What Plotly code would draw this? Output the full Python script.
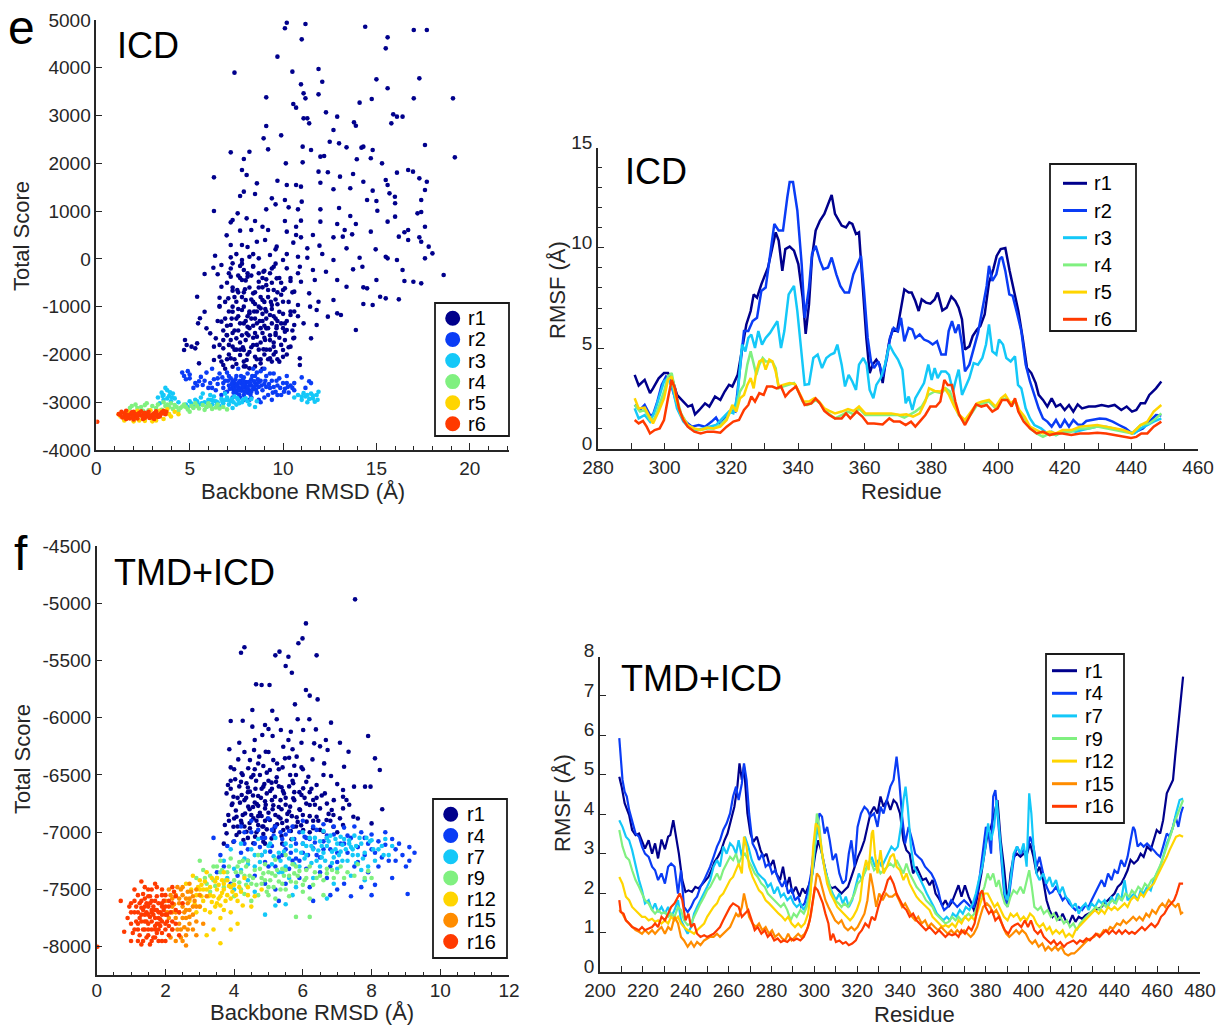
import plotly.graph_objects as go

W, H = 1220, 1027
FONT = "Liberation Sans, Arial, sans-serif"
TXT = "#262626"

# ---------------- data: panel e, scatter (Backbone RMSD, Total Score) ----------------
ICD_SC_R1 = [(10.2,4944),(10.1,4826),(11.2,4916),(11.0,4595),(14.4,4860),(15.6,4637),(15.5,4407),(17.0,4791),(17.7,4791),(9.7,4233),(7.4,3898),(10.5,3919),(11.9,3975),(12.1,3709),(10.96,3653),(11.1,3465),(11.2,3360),(11.9,3444),(15.0,3758),(15.6,3570),(17.3,3779),(17.0,3360),(19.1,3360),(14.75,3346),(14.1,3270),(9.1,3381),(10.55,3242),(10.7,3165),(12.3,3067),(11.1,2942),(11.3,2942),(11.4,2837),(12.9,2977),(13.8,2858),(13.9,2788),(15.9,3025),(16.1,2977),(16.4,2977),(15.8,2837),(12.7,2698),(9.1,2781),(8.96,2523),(9.9,2586),(12.5,2453),(13.0,2418),(13.4,2335),(14.2,2328),(14.3,2349),(14.8,2279),(17.6,2384),(7.2,2230),(8.2,2244),(9.2,2293),(11.05,2349),(11.5,2279),(19.2,2125),(7.9,2091),(12.0,2140),(12.2,2154),(13.95,2084),(14.7,2105),(10.15,2000),(11.05,2021),(15.3,2000),(7.8,1860),(8.05,1756),(6.3,1707),(11.9,1826),(12.4,1812),(13.05,1721),(13.75,1777),(16.1,1805),(16.7,1860),(16.96,1826),(17.3,1686),(17.7,1616),(15.5,1651),(15.6,1546),(8.6,1581),(9.7,1637),(10.2,1546),(10.7,1546),(10.96,1512),(12.0,1595),(12.7,1456),(13.6,1477),(14.3,1616),(14.8,1428),(15.7,1372),(15.99,1302),(17.6,1442),(7.9,1407),(7.7,1316),(8.5,1358),(9.4,1267),(10.1,1233),(11.0,1198),(14.5,1233),(15.0,1212),(16.0,1163),(17.4,1233),(6.3,1002),(7.57,953),(9.1,1037),(9.6,1142),(10.3,1079),(10.8,1037),(12.0,1037),(13.0,1065),(13.6,898),(15.05,1009),(16.0,884),(17.2,953),(17.4,981),(7.2,765),(7.3,814),(8.05,849),(8.5,793),(8.9,674),(10.1,793),(10.7,674),(10.96,800),(12.0,779),(12.9,730),(13.3,605),(13.9,730),(15.6,779),(16.7,605),(17.6,674),(6.98,493),(7.7,591),(8.3,605),(9.2,605),(10.2,570),(10.7,500),(10.96,451),(11.6,500),(12.7,451),(13.2,465),(13.7,514),(14.7,570),(16.2,465),(16.5,556),(17.3,451),(7.2,291),(7.8,291),(8.6,360),(9.04,395),(9.66,256),(10.55,340),(11.3,221),(11.95,277),(13.4,221),(14.96,200),(16.7,395),(17.4,360),(17.8,256),(18.0,116),(6.36,67),(7.2,32),(7.8,-23),(8.2,46),(8.7,11),(9.3,81),(10.0,-23),(10.8,46),(11.3,25),(12.1,102),(12.7,-23),(14.1,25),(15.5,46),(15.6,11),(16.1,-23),(17.6,11),(6.27,-184),(6.7,-128),(7.3,-93),(7.9,-233),(8.4,-163),(8.95,-268),(9.5,-163),(10.2,-198),(10.9,-163),(11.6,-233),(12.3,-268),(13.75,-219),(14.25,-163),(16.4,-233),(18.6,-337),(5.8,-316),(6.5,-323),(7.2,-372),(7.8,-442),(8.1,-372),(8.7,-477),(9.1,-428),(9.66,-407),(10.4,-463),(10.96,-477),(11.7,-442),(12.9,-442),(15.0,-442),(16.5,-463),(16.98,-477),(17.4,-512),(13.4,-582),(14.3,-596),(14.5,-617),(6.7,-582),(7.3,-665),(7.96,-637),(8.4,-721),(8.9,-596),(9.5,-651),(10.1,-617),(10.6,-686),(11.4,-721),(5.4,-791),(6.6,-812),(7.07,-826),(7.5,-896),(8.0,-861),(8.5,-944),(8.9,-861),(9.4,-965),(10.0,-896),(10.8,-965),(11.9,-896),(12.7,-861),(15.2,-791),(15.5,-826),(16.2,-847),(14.3,-944),(14.8,-965),(6.6,-986),(7.3,-1105),(7.8,-1070),(8.2,-1140),(8.8,-1035),(9.3,-1175),(9.8,-1105),(10.4,-1175),(11.45,-1000),(11.8,-1070),(5.8,-1105),(12.4,-1209),(12.9,-1140),(13.1,-1175),(5.55,-1244),(5.45,-1349),(6.7,-1314),(7.2,-1384),(7.7,-1349),(8.1,-1419),(8.6,-1349),(9.1,-1454),(9.66,-1405),(10.2,-1489),(10.6,-1384),(11.1,-1349),(11.8,-1384),(5.9,-1454),(6.1,-1558),(13.9,-1489),(6.4,-1663),(6.98,-1593),(7.5,-1663),(8.05,-1558),(8.6,-1628),(9.04,-1698),(9.6,-1593),(10.1,-1524),(10.55,-1663),(11.5,-1663),(4.75,-1698),(4.84,-1803),(4.7,-1907),(5.1,-1837),(5.4,-1768),(6.3,-1837),(6.8,-1872),(7.3,-1837),(7.9,-1907),(8.4,-1803),(8.95,-1893),(9.5,-1837),(10.0,-1907),(10.4,-1837),(5.3,-1872),(6.6,-2047),(7.2,-2082),(7.7,-2012),(8.05,-2117),(8.5,-2047),(8.8,-2186),(9.3,-2082),(9.8,-2151),(10.9,-2082),(5.5,-2186),(6.3,-2117),(6.8,-2221),(7.3,-2256),(8.2,-2291),(10.9,-2221),
    (7.6,-1200),(8.3,-1250),(8.9,-1300),(9.6,-1250),(7.4,-1500),(8.0,-1700),(8.8,-1750),(9.3,-1600),(7.1,-1800),(9.9,-1350),(8.6,-1100),(7.9,-1000),(9.2,-800),(8.2,-600),(9.7,-700),(8.7,-300),(9.4,-500),(7.6,-700),(10.3,-900),(8.1,-2000),(9.0,-2000),(7.5,-2200),(8.5,-2250),(7.9,-2150),(9.6,-1950),(10.5,-1500),(10.8,-1200),(6.9,-1250),(7.0,-1600),(9.0,-250),(8.4,100),(9.6,200),(7.7,-400),(10.4,-400),(9.1,-1100),(8.3,-850),(7.4,-1900),(8.9,-2300),(9.4,-2150),(6.9,-2300),
    (7.0,-500),(7.3,-1000),(7.6,-1500),(7.9,-1350),(8.2,-1100),(8.5,-1550),(8.8,-1450),(9.1,-1250),(9.4,-1050),(9.7,-950),(10.0,-1150),(7.2,-1700),(7.5,-1250),(7.8,-800),(8.1,-300),(8.4,-900),(8.7,-1900),(9.0,-1650),(9.3,-1900),(9.6,-1550),(9.9,-750),(10.2,-1300),(7.1,-2000),(7.4,-2100),(7.7,-1750),(8.0,-1300),(8.3,-1850),(8.6,-2100),(8.9,-1150),(9.2,-1450),(9.5,-1750),(9.8,-1650),(10.1,-1700),(6.8,-1500),(6.9,-900),(7.2,-200),(7.5,100),(7.8,-100),(8.1,250),(8.4,-150),(8.7,-600),(9.0,-900),(9.3,-300),(9.6,-100),(9.9,-500),(10.2,100),(10.5,-700),(10.8,-300),(6.6,-1800),(6.7,-2150),(7.0,-1400),(7.3,-600),(7.6,-350),(7.9,-700),(8.2,-1450),(8.5,-1250),(8.8,-800),(9.1,-550),(9.4,-1350),(9.7,-1300),(10.0,-1450),(10.3,-1850),(10.6,-1100),(6.5,-1300),(7.1,-1100),(8.0,-2250),(8.9,-1550),(9.5,-2000),(7.7,-1900),(8.4,-1650),(9.2,-2100),(10.0,-2050),
    (6.6,-1000),(6.8,-1700),(7.0,-2100),(7.1,-300),(7.3,-1550),(7.4,-800),(7.5,-1900),(7.6,-1050),(7.7,-150),(7.8,-1600),(7.9,-2250),(8.0,-450),(8.1,-1200),(8.2,-1950),(8.3,-350),(8.4,-1400),(8.5,-700),(8.6,-1800),(8.7,-1000),(8.8,-2100),(8.9,-400),(9.0,-1400),(9.1,-1900),(9.2,-650),(9.3,-1700),(9.4,-200),(9.5,-1200),(9.6,-850),(9.7,-2100),(9.8,-400),(9.9,-1800),(10.0,-650),(10.1,-1350),(10.2,-2000),(10.4,-1100),(10.6,-1650),(7.25,-1250),(7.85,-1850),(8.45,-1100),(9.05,-1050),(9.65,-1450),(8.15,-1600),(8.75,-1300),(7.55,-650),(9.35,-900)]
ICD_SC_R2 = [(4.6,-2380),(4.7,-2450),(4.9,-2350),(4.8,-2520),(5.0,-2420),(5.3,-2600),(5.5,-2560),(5.7,-2640),(5.6,-2470),(5.9,-2380),(6.1,-2600),(6.0,-2700),(6.3,-2520),(6.4,-2750),(6.6,-2400),(6.5,-2620),(6.7,-2850),(6.8,-2700),(6.9,-2550),(7.0,-2380),(7.0,-2780),(7.1,-2650),(7.2,-2500),(7.3,-2720),(7.3,-2900),(7.4,-2600),(7.5,-2450),(7.5,-2800),(7.6,-2680),(7.7,-2550),(7.7,-2900),(7.8,-2620),(7.8,-2760),(7.9,-2480),(7.9,-2850),(8.0,-2700),(8.0,-2580),(8.1,-2400),(8.1,-2800),(8.2,-2650),(8.3,-2520),(8.3,-2900),(8.4,-2720),(8.5,-2600),(8.5,-2450),(8.6,-2800),(8.7,-2680),(8.8,-2350),(8.8,-2550),(8.9,-2750),(9.0,-2620),(9.1,-2450),(9.2,-2850),(9.3,-2700),(9.4,-2550),(9.5,-2400),(9.6,-2780),(9.7,-2650),(9.8,-2500),(9.9,-2850),(10.0,-2600),(10.1,-2720),(10.2,-2450),(10.3,-2800),(10.4,-2650),(10.5,-2700),(10.6,-2750),(11.0,-2480),(11.4,-2560),(7.6,-2300),(8.4,-2300),(9.0,-2300),(8.2,-2950),(6.2,-2300),(5.2,-2700),(7.2,-2970),(8.8,-3000),(9.4,-2950),(7.4,-2700),(7.6,-2600),(7.8,-2700),(8.0,-2650),(8.2,-2750),(7.5,-2650),(7.9,-2600),(8.1,-2700),(7.7,-2750),(8.3,-2650),(7.3,-2560),(8.6,-2650),(7.35,-2800),(7.65,-2840),(7.95,-2780),(8.25,-2840),(8.45,-2560),(7.15,-2720),(7.85,-2530),(8.15,-2580),(8.55,-2740),(7.45,-2520),
    (5.0,-2500),(5.4,-2650),(5.8,-2550),(6.2,-2700),(6.5,-2500),(6.8,-2600),(6.9,-2800),(9.7,-2850),(10.2,-2600),(10.6,-2600),(11.2,-2700),(11.5,-2600),(9.0,-2900),(8.7,-2950),(7.9,-2950),(7.1,-2450),(8.6,-2380),(9.3,-2400),(7.3,-2650),(7.6,-2750),(8.3,-2780),(8.7,-2580),(9.1,-2680),(9.5,-2680),
    (7.05,-2550),(7.25,-2620),(7.45,-2750),(7.65,-2580),(7.85,-2660),(8.05,-2750),(8.25,-2600),(8.45,-2680),(8.65,-2520),(8.85,-2650),(9.05,-2550),(9.25,-2620),(9.45,-2800),(9.65,-2550),(9.85,-2700),(10.05,-2780),(10.25,-2680),(7.75,-2450),(8.35,-2450),(6.75,-2480)]
ICD_SC_R3 = [(3.3,-2900),(3.5,-2800),(3.6,-2950),(3.8,-2750),(3.9,-2870),(4.0,-2980),(4.1,-2820),(4.2,-2920),(3.7,-2700),(3.4,-3020),(4.8,-3050),(5.0,-2980),(5.2,-3100),(5.3,-2950),(5.5,-3050),(5.6,-2900),(5.8,-3000),(5.9,-3100),(6.0,-2950),(6.2,-3050),(6.3,-2880),(6.4,-2980),(6.6,-3080),(6.7,-2930),(6.8,-3020),(7.0,-2900),(7.1,-3050),(7.2,-2980),(7.4,-2880),(7.5,-3050),(7.6,-2950),(7.8,-3000),(8.0,-2920),(8.2,-3050),(8.5,-3100),(8.6,-2980),(6.9,-2820),(6.1,-2850),(7.3,-3120),(5.7,-2820),(10.6,-2900),(10.8,-2850),(11.0,-2950),(11.2,-2880),(11.3,-3000),(11.5,-2820),(11.6,-2920),(11.8,-2850),(11.9,-2780),(11.7,-2990),(11.4,-2930),(11.1,-2810),(11.85,-2950),(6.5,-3000),(6.85,-2960),(7.25,-2930),(5.95,-3020),(6.25,-2970),(7.65,-3020),(4.4,-3000),(3.55,-2870),(3.95,-2790),
    (5.4,-2980),(5.65,-3020),(6.15,-2950),(6.45,-3050),(6.75,-2990),(7.05,-2960),(7.35,-3000),(7.55,-2920),(7.85,-2950),(8.1,-2980),(8.3,-2930),(5.1,-3030),(4.9,-3100),(3.6,-2850),(3.8,-2920),(4.05,-2900),(11.3,-2850),(11.6,-2860),(11.0,-2880)]
ICD_SC_R4 = [(1.8,-3120),(2.1,-3050),(2.4,-3100),(2.7,-3020),(3.0,-3080),(3.3,-3050),(3.6,-3000),(3.9,-3100),(4.2,-3060),(4.5,-3120),(4.7,-3050),(4.9,-3150),(5.1,-3080),(5.3,-3020),(5.5,-3130),(5.7,-3060),(5.9,-3100),(6.2,-3140),(6.5,-3050),(6.8,-3100),(7.0,-3150),(4.4,-3180),(3.5,-3160),(2.8,-3170),(5.0,-3200),(6.0,-3020),(4.0,-3020),(2.5,-3180),(4.6,-3090),(5.2,-3120),(5.8,-3160),(6.6,-3130),(4.1,-3140),(3.7,-3080),
    (1.9,-3080),(2.2,-3120),(2.6,-3060),(3.2,-3120),(3.8,-3050),(4.3,-3100),(4.8,-3100),(5.4,-3080),(6.1,-3080),(6.4,-3110)]
ICD_SC_R5 = [(1.3,-3300),(1.5,-3380),(2.0,-3400),(2.6,-3390),(3.2,-3380),(3.6,-3350),(3.9,-3250),(4.2,-3200),(4.0,-3300),(3.8,-3150),(1.7,-3200),(2.2,-3180),(2.9,-3170),(3.4,-3180),(4.4,-3250),(1.2,-3250),(3.0,-3400),(2.3,-3380)]
ICD_SC_R6 = [(1.3,-3270),(1.5,-3230),(1.7,-3290),(1.9,-3250),(2.1,-3300),(2.3,-3220),(2.5,-3270),(2.7,-3240),(2.9,-3290),(3.1,-3230),(3.3,-3260),(3.5,-3210),(3.7,-3250),(1.4,-3320),(1.6,-3180),(1.8,-3340),(2.0,-3200),(2.2,-3340),(2.4,-3190),(2.6,-3330),(2.8,-3200),(3.0,-3320),(3.2,-3190),(3.4,-3300),(3.6,-3180),(1.2,-3250),(1.5,-3300),(1.8,-3260),(2.1,-3250),(2.4,-3280),(2.7,-3300),(3.0,-3260),(3.3,-3310),(3.6,-3230),(1.6,-3350),(1.9,-3210),(2.2,-3290),(2.5,-3350),(2.8,-3260),(3.1,-3350),(3.4,-3280),(2.0,-3360),(2.6,-3220),(3.2,-3230),(3.75,-3200),(1.35,-3200),(1.65,-3270),(1.95,-3300),(2.25,-3260),(2.55,-3300),(2.85,-3330),(3.15,-3280),(3.45,-3250),(0.05,-3410)]

# ---------------- data: panel e, RMSF per residue (ICD) ----------------
ICD_RMSF_R1 = [(291,3.67),(292.2,3.14),(294,3.42),(295.6,2.76),(296.5,3.0),(298.2,3.5),(299.8,3.76),(301,3.76),(302.4,3.4),(303.7,2.67),(305.6,2.34),(307,2.09),(308.2,2.17),(309.1,1.7),(310.4,1.92),(312.1,2.25),(313.4,2.09),(315.1,2.59),(316.7,2.42),(318,2.84),(319.3,3.17),(320.3,3.09),(321.9,3.67),(323.2,4.84),(324.5,6.18),(325.8,6.85),(326.7,7.68),(327.7,7.52),(329,8.18),(331,9.02),(332.3,9.94),(333.3,10.77),(334.2,10.36),(335.3,8.85),(336.2,9.94),(337.5,10.06),(338.8,9.86),(340.1,9.19),(341.4,7.52),(342.3,5.71),(343.3,7.18),(344.2,9.52),(345.3,10.86),(346.6,11.36),(347.9,11.69),(349,12.19),(350.1,12.64),(351.1,11.69),(352,11.44),(353.1,11.11),(354.4,11.02),(355.4,11.27),(356.3,11.19),(357.4,10.69),(358.3,10.77),(359.3,8.35),(360.5,5.51),(361.5,3.76),(362.4,4.18),(363.5,4.43),(364.5,4.18),(365.4,3.26),(366.1,4.09),(367.4,5.34),(368.4,5.93),(369.7,5.85),(370.6,6.76),(371.9,7.93),(373.2,7.77),(374.1,7.77),(375.2,7.35),(376.2,6.85),(377.1,7.43),(378.4,7.27),(379.7,7.22),(381,7.43),(381.9,7.77),(383.3,6.88),(384.6,7.02),(386,7.57),(387.2,7.35),(388.2,7.02),(389.2,6.43),(390.1,4.93),(391.4,5.09),(392.4,5.6),(393.7,5.93),(394.7,6.1),(396,6.68),(397.3,8.27),(398.6,8.94),(399.6,9.6),(400.8,9.94),(402.2,9.99),(403.5,8.85),(404.8,7.93),(406.1,6.85),(407.4,5.51),(408.7,4.01),(410,3.76),(411.3,3.26),(412.2,2.67),(413.5,2.42),(414.8,2.09),(416.1,2.5),(417.4,2.09),(418.7,2.2),(420,1.92),(421.3,2.17),(422.6,1.84),(423.9,2.2),(425.2,2.0),(427.2,2.09),(429.2,2.09),(431.1,2.17),(433.1,2.09),(435,2.17),(437,1.92),(438.6,2.09),(440.2,1.84),(441.5,1.92),(442.8,2.25),(444.1,2.25),(445.4,2.67),(447.4,3.0),(449,3.34)]
ICD_RMSF_R2 = [(291,2.17),(292.6,1.92),(294,2.17),(295.6,1.67),(296.5,1.67),(297.8,2.34),(299.1,3.17),(300.4,3.59),(301.5,3.42),(302.8,2.67),(304.3,1.84),(306.3,1.34),(308.2,1.09),(310.2,1.17),(312.1,1.09),(314.1,1.34),(315.4,1.54),(316.7,1.17),(318.2,1.54),(319.9,1.92),(321.2,1.84),(322.5,3.84),(323.8,5.85),(325.1,5.85),(326.4,6.35),(327.7,6.51),(329,7.85),(330.3,8.02),(331.6,9.52),(332.9,11.19),(334.2,10.86),(335.5,10.86),(336.8,12.53),(337.5,13.28),(338.5,13.28),(339.8,11.86),(341.1,9.19),(342,6.51),(343.3,8.02),(344.2,9.69),(345.3,10.1),(346.6,9.35),(347.6,8.94),(349,9.02),(350.1,9.52),(351.5,8.68),(352.7,8.1),(354,7.77),(355.3,7.77),(356.6,8.68),(357.9,9.19),(358.9,9.6),(359.8,7.85),(360.9,5.51),(361.9,4.34),(362.8,4.01),(364.1,4.34),(365.4,3.59),(366.7,4.51),(367.6,5.51),(368.7,6.01),(370,5.85),(370.9,6.51),(371.9,5.34),(373.2,6.01),(374.3,5.93),(375.2,5.51),(376.5,5.68),(377.8,5.43),(379.1,5.34),(380.4,5.18),(381.7,5.34),(383,4.68),(384.3,4.68),(385.2,5.85),(386.2,6.35),(387.2,5.76),(388.2,6.18),(389.2,5.18),(390.1,3.84),(391.4,4.18),(392.7,4.93),(394,5.76),(395.3,6.93),(396.6,8.1),(397.3,9.1),(398.3,8.35),(399.5,8.68),(400.5,9.44),(401.2,9.55),(402.2,8.85),(403.4,7.68),(404.4,7.6),(405.7,6.76),(407,5.85),(408.3,4.18),(409.6,3.34),(410.9,2.67),(412.2,2.0),(413.5,1.5),(414.8,1.34),(416.1,1.09),(417.4,1.42),(418.7,1.04),(420,1.42),(421.3,1.09),(422.6,1.42),(423.9,1.2),(425.2,1.17),(426.5,1.37),(428.5,1.42),(430.5,1.5),(432.4,1.47),(434.4,1.34),(436.3,1.17),(438.3,1.0),(440.2,0.75),(441.5,0.84),(443.5,1.0),(445.4,1.34),(447.4,1.67),(449,1.64)]
ICD_RMSF_R3 = [(291,2.0),(292.2,1.5),(294,1.67),(295.6,1.34),(297,1.84),(298.5,2.67),(299.8,3.34),(301,3.51),(302.4,3.0),(303.7,2.0),(305.6,1.34),(307.6,1.0),(309.5,0.92),(311.5,1.0),(313.4,1.09),(315.4,1.17),(317.3,1.5),(319.3,1.84),(320.6,1.75),(321.9,2.67),(323.2,5.18),(324.2,4.84),(325.1,5.51),(326,5.68),(327.1,5.01),(328.1,5.85),(329.2,5.18),(330.3,5.51),(331.6,5.76),(332.9,6.1),(333.8,6.35),(334.9,5.01),(335.9,5.85),(337.2,7.68),(338.8,8.1),(339.8,6.85),(340.9,4.84),(342,3.17),(343.3,3.21),(344.6,4.51),(345.9,4.68),(347.2,4.01),(348.5,4.51),(349.8,4.68),(350.9,4.76),(351.8,5.18),(353.1,4.18),(354.1,3.09),(355.2,3.67),(356.3,3.34),(357.4,2.92),(358.3,4.18),(359.6,4.51),(360.6,4.18),(361.5,2.92),(362.6,2.51),(363.5,3.17),(364.8,3.51),(366.1,4.18),(367.4,5.18),(368.7,4.76),(370,4.43),(371.3,3.93),(372.3,2.25),(373.2,2.59),(374.3,1.92),(375.2,2.51),(376.5,2.92),(377.8,3.26),(379.1,4.18),(380.1,3.42),(381,4.01),(381.9,3.51),(383,3.84),(384.3,3.84),(385.3,3.67),(386.5,2.84),(387.5,3.51),(388.2,3.93),(389.2,2.67),(390.1,3.0),(391.4,3.51),(392.7,4.26),(394,4.18),(395.3,4.51),(396.4,5.18),(397.3,6.18),(398.3,4.84),(399.5,4.68),(400.3,5.43),(401.5,5.18),(402.5,4.51),(403.8,4.34),(405.1,4.59),(406,3.17),(407,3.0),(408.3,2.0),(409.6,1.5),(410.9,1.17),(412.9,1.0),(414.8,0.75),(416.1,0.84),(417.4,0.67),(419.4,0.84),(421.3,0.92),(423.3,0.84),(425.2,0.92),(427.2,1.0),(429.8,1.09),(432.4,1.09),(435,1.0),(437,0.92),(438.9,0.84),(440.9,0.75),(442.8,1.0),(444.8,1.17),(446.7,1.34),(449,1.5)]
ICD_RMSF_R4 = [(291,2.17),(292.6,1.84),(294,1.92),(295.6,1.42),(297,1.5),(298.5,2.17),(299.8,2.84),(301,3.59),(302.1,3.76),(303.4,2.67),(304.9,1.75),(306.9,1.17),(308.9,0.97),(310.8,0.92),(312.8,1.0),(314.7,1.0),(316.7,1.17),(318.6,1.5),(320.3,2.0),(321.5,2.0),(322.6,2.84),(323.8,3.17),(324.8,4.18),(325.8,4.84),(326.7,4.18),(327.5,3.67),(328.4,4.18),(329.4,4.51),(330.3,4.34),(331.4,4.34),(332.3,4.34),(333.3,4.01),(334.2,3.0),(335.5,3.09),(336.8,3.17),(338.8,3.26),(340.1,2.84),(341.4,2.34),(342.7,2.17),(344,2.25),(345.3,2.42),(346.6,2.25),(347.9,1.92),(349.2,1.75),(351.1,1.5),(353.1,1.67),(355,1.84),(356.7,1.7),(358.3,2.0),(360.2,1.67),(362.2,1.67),(364.8,1.67),(367.4,1.7),(370,1.67),(371.9,1.54),(373.9,1.7),(375.2,1.84),(377.1,2.09),(379.1,2.67),(381,2.84),(383,2.76),(384.3,3.0),(385.6,2.84),(386.9,2.17),(388.2,1.67),(390.1,1.34),(392.1,1.75),(393.7,2.17),(395.3,2.25),(397.3,2.34),(399.3,2.0),(400.9,2.42),(402.5,2.51),(404.1,2.17),(405.1,2.34),(406.4,1.84),(408,1.5),(409.6,1.0),(411.6,0.75),(413.5,0.58),(415.5,0.75),(417.4,0.67),(419.4,0.84),(422,0.84),(424.6,1.0),(427.2,1.0),(429.8,1.09),(432.4,1.0),(435,0.92),(437.6,0.84),(440.2,0.75),(442.8,1.17),(445.4,1.25),(447.4,1.5),(449,1.75)]
ICD_RMSF_R5 = [(291,2.5),(292.2,2.0),(294,2.04),(295.6,1.5),(296.5,1.25),(298.2,1.84),(299.8,2.5),(301,3.42),(302.1,3.59),(303.4,2.5),(304.9,1.67),(306.9,1.17),(308.9,1.0),(310.8,0.92),(312.8,1.04),(314.7,1.0),(316.7,1.09),(318.6,1.42),(320.3,2.17),(321.5,1.84),(322.6,2.5),(323.8,2.67),(324.8,3.17),(325.8,3.51),(326.7,3.0),(327.5,3.84),(328.4,4.34),(329.4,4.43),(330.3,3.93),(331.4,4.43),(332.3,4.34),(333.3,3.84),(334.2,3.09),(335.5,3.17),(337.5,3.26),(339.1,3.21),(340.4,2.76),(341.7,2.34),(343.3,2.34),(344.9,2.5),(346.3,2.34),(347.9,2.0),(349.4,1.87),(351.1,1.75),(353.1,1.84),(355,1.97),(356.7,1.87),(358.3,2.09),(360.2,1.75),(362.8,1.75),(365.4,1.75),(368,1.75),(370.6,1.67),(372.5,1.7),(374.5,1.59),(376.5,1.75),(378.2,2.34),(379.3,3.0),(381,2.87),(382.7,2.84),(384,3.0),(385.3,2.67),(386.9,2.09),(388.4,1.67),(390.1,1.42),(391.8,1.84),(393.7,2.25),(395.3,2.34),(397.3,2.42),(399.3,2.09),(400.9,2.5),(402.2,2.67),(403.8,2.25),(405.1,2.42),(406.4,1.92),(408,1.59),(409.6,1.09),(411.6,0.92),(413.5,0.75),(415.5,0.84),(417.4,0.75),(419.4,0.92),(422,0.92),(424.6,1.09),(427.2,1.14),(429.8,1.17),(432.4,1.09),(435,1.0),(437.6,0.92),(440.2,0.75),(442.8,1.17),(444.8,1.34),(446.7,1.84),(449,2.17)]
ICD_RMSF_R6 = [(291,1.42),(292.2,1.25),(293.5,1.37),(294.6,1.09),(295.6,0.75),(297,0.92),(298.5,1.0),(299.8,1.42),(301,2.5),(302.1,3.42),(303.1,3.0),(304.3,2.0),(305.6,1.42),(306.9,1.09),(308.9,0.84),(310.8,0.75),(312.8,0.84),(314.7,0.84),(316.7,0.79),(318.6,1.09),(320.6,1.34),(322.3,1.42),(323.8,1.92),(325.1,2.17),(326,2.59),(327.1,2.34),(328.4,2.76),(329.7,2.67),(330.7,3.09),(332.3,3.09),(333.6,3.0),(334.9,3.09),(336.2,2.59),(337.5,2.84),(339.4,3.09),(340.7,2.59),(342,2.17),(344,2.25),(345.3,2.5),(346.6,2.25),(347.9,1.87),(349.4,1.67),(351.1,1.5),(353.1,1.5),(354.4,1.75),(355.7,1.5),(357.6,1.84),(359.3,1.59),(360.9,1.25),(362.8,1.25),(365.4,1.2),(367.4,1.5),(368.7,1.34),(370.6,1.34),(372.3,1.17),(373.9,1.34),(375.2,1.09),(376.5,1.34),(378.2,1.67),(379.7,2.09),(381.4,2.09),(382.7,2.34),(383.9,3.42),(384.9,3.17),(386.2,3.17),(387.2,2.34),(388.4,1.67),(390.1,1.17),(391.8,1.67),(393.4,2.2),(395,2.09),(396.6,2.17),(398.3,1.84),(399.9,2.0),(401.2,2.42),(402.8,2.42),(404.1,2.09),(405.1,2.5),(406.1,1.84),(407.7,1.34),(409.6,1.0),(411.6,0.75),(413.5,0.84),(415.5,0.67),(417.4,0.75),(419.4,0.75),(422,0.67),(424.6,0.75),(427.2,0.75),(429.8,0.79),(432.4,0.75),(435,0.67),(437.6,0.58),(439.9,0.53),(441.5,0.58),(443,0.75),(444.8,0.75),(446.7,1.09),(449,1.34)]

# ---------------- data: panel f, scatter (TMD+ICD) ----------------
TMD_SC_R1 = [(7.52,-4966),(6.09,-5176),(5.99,-5307),(5.87,-5350),(4.30,-5385),(4.20,-5432),(5.32,-5423),(5.2,-5455),(5.58,-5467),(6.4,-5455),(5.5,-5548),(5.68,-5607),(4.64,-5708),(4.80,-5714),(5.03,-5714),(6.09,-5758),(6.2,-5807),(6.43,-5840),(5.77,-5883),(4.53,-5933),(5.11,-5939),(3.9,-6029),(4.25,-6026),(4.53,-6078),(4.9,-6064),(5.24,-6014),(5.0,-6099),(5.85,-6014),(6.19,-6014),(6.82,-6043),(6.01,-6107),(6.38,-6102),(5.65,-6122),(5.36,-6107),(4.82,-6151),(5.12,-6160),(7.9,-6160),(4.15,-6218),(4.6,-6195),(5.58,-6195),(6.67,-6195),(5.96,-6218),(6.33,-6224),(4.58,-6282),(4.92,-6297),(5.43,-6253),(5.7,-6276),(3.86,-6276),(7.08,-6218),(7.33,-6297),(6.72,-6282),(4.12,-6364),(4.46,-6370),(4.73,-6340),(5.14,-6370),(5.48,-6355),(5.82,-6340),(6.28,-6364),(6.62,-6399),(8.1,-6355),(3.9,-6434),(4.41,-6442),(4.85,-6422),(5.04,-6457),(5.41,-6434),(5.96,-6434),(8.24,-6457),(7.2,-6428),(4.22,-6486),(4.56,-6500),(4.95,-6480),(5.24,-6521),(5.63,-6500),(6.16,-6515),(6.82,-6509),(3.82,-6588),(4.03,-6538),(4.36,-6573),(4.64,-6550),(4.85,-6602),(5.09,-6567),(5.38,-6608),(5.72,-6573),(6.01,-6617),(6.4,-6588),(7.17,-6632),(7.49,-6602),(7.81,-6602),(7.97,-6602),(3.78,-6661),(3.98,-6690),(4.22,-6675),(4.46,-6646),(4.7,-6684),(4.95,-6661),(5.19,-6690),(5.45,-6661),(5.72,-6704),(5.96,-6675),(6.3,-6719),(6.64,-6661),(7.17,-6690),(7.27,-6719),(3.93,-6763),(4.17,-6742),(4.41,-6777),(4.66,-6754),(4.9,-6792),(5.14,-6765),(5.38,-6800),(5.63,-6777),(5.92,-6806),(6.2,-6763),(6.5,-6792),(6.84,-6806),(7.17,-6792),(8.31,-6800),(3.83,-6850),(4.07,-6865),(4.32,-6836),(4.56,-6879),(4.8,-6859),(5.04,-6894),(5.29,-6865),(5.53,-6900),(5.82,-6870),(6.11,-6908),(6.4,-6865),(6.69,-6894),(6.89,-6850),(7.08,-6879),(7.47,-6865),(3.73,-6937),(3.98,-6952),(4.22,-6923),(4.46,-6966),(4.7,-6937),(4.95,-6975),(5.19,-6946),(5.43,-6981),(5.72,-6952),(6.01,-6981),(6.3,-6966),(6.6,-6996),(6.89,-6952),(7.17,-6937),(8.0,-6923),(3.78,-7010),(4.07,-7025),(4.36,-6996),(4.61,-7039),(4.85,-7016),(5.09,-7054),(5.38,-7033),(5.67,-7062),(3.98,-7083),(4.27,-7068),(4.56,-7097),(4.85,-7083),
    (4.3,-6720),(4.6,-6740),(4.9,-6730),(5.1,-6620),(4.4,-6610),(4.75,-6830),(5.0,-6830),(4.2,-6900),(4.65,-6900),(5.25,-6930),(5.55,-6840),(4.45,-6800),(4.85,-6950),(5.35,-6720),(4.05,-6810),(4.55,-6680),(5.75,-6650),(5.85,-6910),
    (3.85,-6900),(3.95,-6750),(4.1,-6950),(4.15,-6600),(4.25,-6850),(4.35,-6700),(4.45,-6920),(4.5,-6520),(4.55,-6780),(4.62,-6620),(4.7,-6860),(4.78,-6700),(4.82,-6950),(4.88,-6580),(4.92,-6760),(4.98,-6880),(5.05,-6640),(5.12,-6800),(5.18,-6960),(5.22,-6560),(5.3,-6780),(5.35,-6880),(5.42,-6640),(5.5,-6760),(5.55,-6960),(5.6,-6600),(5.68,-6860),(5.75,-6720),(5.8,-6500),(5.9,-6800),(5.95,-6940),(6.05,-6700),(6.1,-6560),(6.2,-6860),(6.25,-6620),(6.35,-6760),(6.45,-6900),(6.55,-6680),(6.6,-6500),(6.75,-6840),(6.9,-6720),(7.0,-6580),(7.35,-6760),(7.6,-6880),(3.9,-6550),(4.0,-6450),(4.3,-6300),(4.7,-6400),(5.0,-6300),(5.3,-6450),(5.6,-6350),(6.0,-6450),(6.5,-6250),(4.4,-7050),(4.9,-7100),(5.4,-7100),(6.2,-7000),(6.7,-7050),(7.0,-7000),(3.7,-7100),
    (3.9,-6620),(4.0,-6880),(4.1,-6700),(4.2,-6560),(4.3,-6950),(4.4,-6650),(4.5,-6850),(4.6,-6450),(4.7,-6770),(4.8,-6620),(4.9,-6900),(5.0,-6550),(5.1,-6720),(5.2,-6850),(5.3,-6600),(5.4,-6920),(5.5,-6700),(5.6,-6820),(5.7,-6550),(5.8,-6950),(5.9,-6650),(6.0,-6850),(6.1,-6750),(6.2,-6650),(6.3,-6900),(6.4,-6700),(6.5,-6980),(6.7,-6750),(6.8,-6900),(4.25,-6500),(4.75,-6500),(5.25,-6400),(5.75,-6420),(4.15,-7000),(4.65,-7000),(5.15,-6990),(5.65,-6990)]
TMD_SC_R4 = [(3.4,-7050),(3.6,-7200),(3.8,-7120),(3.7,-7300),(4.0,-7080),(4.2,-7180),(4.3,-7000),(4.4,-7250),(4.6,-7100),(4.7,-6980),(4.8,-7200),(4.9,-7050),(5.0,-7300),(5.1,-7120),(5.2,-6950),(5.3,-7220),(5.4,-7060),(5.5,-7150),(5.6,-6990),(5.7,-7250),(5.8,-7100),(5.9,-7000),(6.0,-7180),(6.1,-7320),(6.2,-7060),(6.3,-7140),(6.4,-6980),(6.5,-7220),(6.6,-7080),(6.7,-7400),(6.8,-7150),(6.9,-7020),(7.0,-7260),(7.1,-7100),(7.2,-7450),(7.3,-7180),(7.4,-7050),(7.5,-7300),(7.6,-7130),(7.7,-7480),(7.8,-7200),(7.9,-7350),(8.0,-7150),(8.1,-7460),(8.2,-7080),(8.3,-7220),(8.4,-7110),(8.6,-7060),(8.7,-7150),(8.9,-7200),(9.1,-7130),(9.25,-7180),(9.05,-7540),(5.5,-7450),(6.2,-7480),(6.8,-7550),(5.9,-7400),(4.9,-7450),(7.4,-7560),(5.3,-7600),(6.5,-7350),(4.5,-7000),(5.0,-6880),(6.0,-6900),(6.6,-6930),(7.2,-6960),(8.0,-7020),(5.6,-7320),(4.1,-7380),(3.9,-7450),(5.15,-7030),(5.45,-7110),(5.75,-7060),(6.05,-7040),(6.35,-7090),(4.75,-7130),(5.05,-7170),(5.35,-7000),(5.65,-7180),(6.15,-7200),
    (4.4,-7150),(4.9,-7260),(5.2,-7300),(5.5,-7020),(5.8,-7230),(6.1,-7050),(6.4,-7200),(6.7,-7030),(7.0,-7180),(7.3,-7030),(7.6,-7260),(7.9,-7100),(8.2,-7300),(8.5,-7250),(8.8,-7100),(9.0,-7300),(8.6,-7400),(8.0,-7550),(7.0,-7500),(6.3,-7600),(4.2,-6950),(3.5,-7350),(4.6,-7380),(5.2,-7500),
    (4.5,-6900),(4.8,-7050),(5.1,-6980),(5.4,-7200),(5.7,-6950),(6.0,-7100),(6.3,-6950),(6.6,-7150),(6.9,-6950),(7.2,-7100),(7.5,-6950),(7.8,-7050),(8.1,-7180),(8.4,-7000),(8.7,-7250),(9.1,-7250),(4.3,-7100),(5.9,-7250),(6.8,-7300),(7.7,-7000)]
TMD_SC_R7 = [(3.7,-7250),(3.9,-7150),(4.0,-7320),(4.2,-7100),(4.3,-7230),(4.5,-7150),(4.6,-7300),(4.7,-7060),(4.8,-7200),(5.0,-7120),(5.1,-7280),(5.2,-7050),(5.3,-7180),(5.4,-7350),(5.5,-7100),(5.6,-7230),(5.7,-7060),(5.8,-7160),(5.9,-7300),(6.0,-7100),(6.1,-7200),(6.2,-7050),(6.3,-7150),(6.4,-7250),(6.5,-7080),(6.6,-7180),(6.7,-7120),(6.8,-7030),(6.9,-7220),(7.0,-7100),(7.1,-7170),(7.2,-7060),(7.3,-7250),(7.4,-7130),(7.5,-7030),(7.6,-7200),(7.7,-7100),(7.8,-7180),(7.9,-7300),(8.0,-7070),(8.2,-7150),(8.4,-7060),(8.5,-7200),(6.3,-7400),(6.9,-7450),(7.4,-7380),(7.8,-7420),(5.8,-7480),(6.7,-7580),(5.2,-7640),(4.9,-7720),(5.5,-7630),(5.7,-7550),(4.6,-7520),(6.0,-7000),(6.6,-6990),(5.6,-7400),(7.0,-7320),(4.4,-7420),(4.0,-7500),(6.25,-7120),(6.45,-7160),(6.75,-7080),(6.95,-7150),(7.15,-7110),(7.35,-7070),(7.55,-7120),(6.55,-7220),(7.05,-7200),(7.45,-7200),(6.85,-7270),(7.65,-7050),
    (4.9,-7170),(5.15,-7210),(5.45,-7170),(5.75,-7280),(6.05,-7230),(6.35,-7050),(6.65,-7250),(6.95,-7060),(7.25,-7150),(7.55,-7270),(7.85,-7050),(8.1,-7250),(8.3,-7120),(7.1,-7040),(6.5,-7300),(5.3,-7350),(4.6,-7200),(4.2,-7330),(3.8,-7400),(7.7,-7330),
    (5.05,-7100),(5.35,-7250),(5.65,-7120),(5.95,-7180),(6.25,-7270),(6.55,-7120),(6.85,-7170),(7.15,-7250),(7.45,-7150),(7.75,-7230),(8.05,-7150),(8.35,-7200),(7.95,-7080),(7.35,-7100),(6.7,-7050),(6.1,-7120),(5.5,-7300),(4.75,-7260),(4.4,-7280),(8.6,-7120)]
TMD_SC_R9 = [(2.9,-7400),(3.1,-7330),(3.2,-7450),(3.4,-7300),(3.5,-7400),(3.6,-7250),(3.7,-7480),(3.8,-7350),(3.9,-7230),(4.0,-7420),(4.1,-7300),(4.2,-7500),(4.3,-7380),(4.4,-7250),(4.5,-7450),(4.6,-7330),(4.7,-7550),(4.8,-7400),(4.9,-7280),(5.0,-7480),(5.1,-7360),(5.2,-7240),(5.3,-7430),(5.4,-7320),(5.5,-7500),(5.6,-7380),(5.7,-7280),(5.8,-7440),(5.9,-7340),(6.0,-7520),(6.1,-7400),(6.2,-7300),(6.3,-7460),(6.5,-7380),(6.7,-7320),(6.9,-7400),(7.1,-7300),(7.3,-7350),(7.6,-7280),(7.9,-7340),(5.8,-7740),(6.2,-7740),(5.2,-7580),(4.5,-7600),(4.0,-7560),(3.3,-7520),(6.6,-7550),(4.7,-7200),(5.5,-7200),(3.0,-7250),(4.2,-7350),(5.0,-7350),(4.8,-7450),(5.4,-7450),(3.85,-7300),(4.15,-7440),(4.45,-7380),(4.75,-7320),(5.05,-7420),(5.25,-7330),(5.65,-7430),(4.35,-7300),(4.95,-7520),(5.85,-7380),
    (3.3,-7380),(3.6,-7350),(3.75,-7420),(4.05,-7350),(4.25,-7250),(4.55,-7400),(4.85,-7360),(5.15,-7480),(5.45,-7380),(5.75,-7360),(6.05,-7420),(6.35,-7350),(6.6,-7420),(6.85,-7330),(7.2,-7400),(7.5,-7380),(7.8,-7400),(8.0,-7400),(3.5,-7300),(5.0,-7550),(5.6,-7560),(6.2,-7580),(4.3,-7540),
    (3.15,-7400),(3.45,-7470),(3.65,-7330),(3.95,-7460),(4.35,-7460),(4.65,-7460),(4.9,-7420),(5.2,-7380),(5.5,-7330),(5.8,-7300),(6.1,-7330),(6.4,-7400),(6.7,-7360),(7.0,-7350),(5.35,-7500),(4.15,-7260),(3.4,-7420),(6.0,-7460)]
TMD_SC_R12 = [(2.6,-7450),(2.8,-7380),(2.9,-7550),(3.0,-7420),(3.1,-7600),(3.2,-7350),(3.3,-7480),(3.4,-7560),(3.5,-7400),(3.6,-7640),(3.7,-7500),(3.8,-7420),(3.9,-7580),(4.0,-7460),(4.2,-7520),(4.4,-7480),(4.6,-7560),(3.0,-7650),(3.3,-7700),(3.6,-7750),(3.9,-7700),(4.1,-7800),(3.4,-7850),(3.6,-7970),(3.2,-7900),(3.9,-7850),(4.5,-7650),(2.7,-7600),(3.5,-7500),(3.2,-7500),(3.8,-7550),(4.3,-7400),(3.0,-7500),(3.7,-7350),(4.8,-7500),(3.15,-7430),(3.35,-7610),(3.55,-7460),(3.75,-7600),(3.45,-7430),(3.25,-7560),(3.65,-7530),(3.95,-7520),(4.1,-7600),(2.95,-7480),
    (2.75,-7500),(2.85,-7630),(3.05,-7560),(3.15,-7680),(3.45,-7650),(3.55,-7580),(3.85,-7470),(4.05,-7550),(4.25,-7640),(3.35,-7400),(3.65,-7420),(2.9,-7700),(4.4,-7550),(3.7,-7680),
    (3.1,-7500),(3.3,-7550),(3.5,-7620),(3.7,-7450),(3.9,-7480),(3.05,-7460),(3.6,-7560),(4.15,-7480)]
TMD_SC_R15 = [(2.0,-7600),(2.1,-7500),(2.2,-7700),(2.3,-7550),(2.4,-7800),(2.5,-7480),(2.5,-7650),(2.6,-7900),(2.7,-7580),(2.8,-7720),(2.9,-7500),(3.0,-7650),(3.1,-7800),(2.3,-7950),(2.6,-7990),(2.9,-7900),(2.2,-7850),(2.7,-7450),(2.4,-7620),(2.6,-7750),(2.8,-7850),(3.2,-7560),(2.1,-7750),(2.4,-7700),(2.7,-7680),(2.5,-7550),(2.35,-7480),(2.55,-7830),(2.75,-7520),(2.45,-7920),(2.65,-7620),(2.85,-7600),(2.25,-7630),(2.15,-7920),
    (2.05,-7700),(2.15,-7550),(2.3,-7750),(2.45,-7500),(2.55,-7700),(2.65,-7520),(2.7,-7800),(2.8,-7560),(2.9,-7780),(3.0,-7550),(2.35,-7850),(2.5,-7950),(2.2,-7650),(2.6,-7580),
    (2.2,-7580),(2.4,-7580),(2.6,-7680),(2.8,-7650),(2.3,-7700),(2.5,-7750),(2.7,-7740),(2.9,-7650),(2.45,-7850),(2.65,-7850)]
TMD_SC_R16 = [(0.7,-7600),(0.8,-7870),(1.0,-7800),(1.0,-7950),(1.1,-7700),(1.2,-7550),(1.2,-7850),(1.3,-7430),(1.3,-7980),(1.4,-7650),(1.4,-7780),(1.5,-7500),(1.5,-7900),(1.6,-7700),(1.6,-7600),(1.7,-7820),(1.7,-7450),(1.8,-7750),(1.8,-7950),(1.9,-7650),(1.9,-7550),(2.0,-7850),(2.0,-7720),(2.1,-7600),(2.2,-7780),(2.2,-7480),(2.3,-7680),(2.4,-7900),(2.5,-7620),(1.1,-7600),(1.3,-7720),(1.5,-7800),(1.7,-7680),(1.9,-7780),(1.4,-7580),(1.6,-7850),(1.8,-7620),(2.0,-7950),(1.2,-7700),(1.5,-7650),(1.7,-7750),(1.9,-7880),(2.1,-7820),(1.0,-7700),(2.3,-7560),
    (1.25,-7620),(1.35,-7850),(1.45,-7700),(1.55,-7740),(1.65,-7650),(1.75,-7880),(1.85,-7700),(1.95,-7600),(2.05,-7780),(1.15,-7780),(1.35,-7540),(1.55,-7560),(1.75,-7560),(1.45,-7920),(1.65,-7920),(1.85,-7820),(2.15,-7700),(1.25,-7900),(1.05,-7880),(1.6,-7500),(1.9,-7500),
    (1.1,-7500),(1.3,-7600),(1.4,-7480),(1.5,-7560),(1.6,-7780),(1.7,-7600),(1.8,-7850),(1.9,-7720),(2.0,-7650),(2.1,-7900),(1.2,-7950),(1.3,-7780),(1.4,-7850),(1.5,-7720),(1.6,-7950),(1.7,-7920),(1.8,-7700),(1.9,-7950),(2.0,-7550),(2.2,-7620),(0.9,-7750),(1.0,-7620),(2.3,-7800),(2.4,-7700),(1.45,-7620),(1.75,-7800),
    (1.15,-7650),(1.25,-7750),(1.35,-7680),(1.45,-7780),(1.55,-7620),(1.65,-7720),(1.75,-7680),(1.85,-7760),(1.95,-7680),(2.05,-7720),(1.2,-7800),(1.4,-7720),(1.6,-7680),(1.8,-7800),(2.0,-7800),(1.3,-7660),(1.5,-7850),(1.7,-7850),(1.9,-7620),(2.1,-7650),(1.1,-7850),(2.2,-7850),(1.35,-7950),(1.55,-7980),(1.75,-7480),(2.25,-7520),(0.95,-7650),(0.02,-8000)]

# ---------------- data: panel f, RMSF per residue (TMD+ICD) ----------------
TMD_RMSF_R1 = [(209,4.95),(210.1,4.7),(211.5,4.28),(213.6,3.98),(215,3.6),(216.6,3.47),(218.2,3.51),(219.6,3.3),(221,3.13),(222.7,3.34),(224.3,3.0),(225.7,3.26),(227.1,2.88),(228.7,3.36),(230.3,3.11),(231.8,3.43),(232.8,3.47),(234.2,3.85),(235.8,3.34),(236.8,3.0),(238.4,2.33),(239.9,2.03),(241.3,2.07),(242.9,2.03),(244.5,2.16),(245.9,2.12),(247.3,2.2),(248.9,2.29),(250.6,2.41),(252,2.58),(253.4,2.79),(255,2.92),(256.6,3.09),(258.1,3.34),(259.5,3.51),(261.1,3.85),(262.7,4.19),(264.1,4.7),(265.1,5.29),(266.2,4.87),(267.2,5.21),(268.8,4.02),(270.2,3.51),(271.6,3.3),(273.2,3.43),(274.9,3.09),(276.3,2.92),(277.7,3.0),(279.3,2.67),(280.9,2.84),(282.3,2.5),(284,2.33),(285.4,2.67),(287,2.16),(288.4,2.41),(289.8,1.99),(291.4,2.16),(293.1,1.91),(294.5,2.12),(295.9,1.99),(297.5,2.2),(299.1,2.5),(300.5,3.0),(301.9,3.34),(303.6,3.0),(305.2,2.58),(306.6,2.24),(308,2.12),(309.7,2.16),(311.3,2.07),(312.7,1.99),(314.1,2.07),(315.7,2.16),(317.3,2.41),(318.8,2.67),(320.4,2.92),(321.8,3.09),(323.4,3.34),(324.8,3.68),(326.2,4.02),(327.9,4.19),(329.5,4.02),(330.9,4.45),(332.3,4.19),(333.9,4.36),(335.5,4.11),(337,4.36),(338.4,4.28),(340,4.02),(341.6,3.34),(343,3.09),(344.5,3.0),(346.1,2.5),(347.7,2.67),(349.1,2.5),(350.5,2.33),(352.1,2.37),(353.8,2.2),(355.2,2.33),(356.6,1.99),(358.2,1.86),(359.8,1.69),(361.2,1.82),(362.7,1.65),(364.3,1.78),(365.9,1.99),(367.3,2.2),(368.7,1.91),(370.3,2.2),(372,1.91),(373.4,1.74),(374.8,1.52),(376.4,1.99),(378,2.5),(379.4,3.0),(380.9,3.51),(382.5,3.68),(384.1,4.02),(385.5,4.36),(387,3.34),(388.5,2.67),(390.2,1.74),(391.6,2.5),(393,2.92),(394.6,3.0),(396.2,2.92),(397.7,3.0),(399.1,2.96),(400.7,3.26),(402.3,2.92),(403.7,2.5),(405.1,2.67),(406.8,2.33),(408.4,1.82),(409.8,1.57),(411.2,1.4),(412.8,1.52),(414.4,1.31),(415.9,1.48),(417.3,1.31),(418.9,1.23),(420.5,1.44),(421.9,1.27),(423.4,1.4),(425,1.35),(426.6,1.44),(428,1.48),(429.4,1.52),(431,1.57),(432.7,1.61),(434.1,1.65),(435.5,1.74),(437.1,1.82),(438.7,1.91),(440.1,1.99),(441.6,2.16),(443.2,2.24),(444.8,2.41),(446.2,2.58),(447.6,2.84),(449.2,2.75),(450.9,2.84),(452.3,3.0),(453.7,2.92),(455.3,3.18),(457,3.09),(458.4,3.34),(459.8,3.6),(461.4,3.51),(462.8,3.85),(464.5,4.53),(465.8,4.7),(467.4,4.87),(468.4,5.46),(469.9,6.31),(471.1,6.99),(472.1,7.49)]
TMD_RMSF_R4 = [(209,5.93),(209.7,5.46),(210.5,4.87),(211.5,4.57),(212.5,4.45),(213.6,4.11),(215,3.81),(216.6,3.51),(218.2,3.43),(219.6,3.18),(221,3.0),(222.7,2.92),(224.3,2.67),(225.7,2.58),(227.1,2.33),(228.7,2.5),(230.3,2.24),(231.8,2.67),(233.2,2.75),(234.8,2.67),(236.4,1.99),(237.8,2.58),(239.2,1.65),(240.9,1.52),(242.5,1.65),(243.9,1.82),(245.3,1.91),(246.9,2.16),(248.6,2.33),(250,2.5),(251.4,2.67),(253,2.92),(254.6,3.18),(256,3.34),(257.5,3.6),(259.1,3.77),(260.7,4.02),(262.1,4.45),(263.5,4.7),(264.7,4.36),(266.2,4.78),(267.2,5.29),(268.4,4.87),(269.6,4.02),(271.2,3.26),(272.8,3.09),(274.2,2.84),(275.7,3.0),(277.3,2.67),(278.9,2.75),(280.3,2.5),(281.7,2.58),(283.4,2.33),(285,2.16),(286.4,2.33),(287.8,1.99),(289.4,2.12),(291,1.82),(292.5,1.91),(293.9,1.65),(295.5,1.74),(297.1,2.07),(298.5,2.5),(299.9,3.18),(301.2,3.68),(302.4,4.02),(303.6,3.94),(304.8,3.51),(306,3.68),(307.2,3.34),(308.6,2.84),(310.1,3.0),(311.7,2.5),(313.3,2.24),(314.7,2.33),(316.1,3.0),(317.3,3.34),(318.8,2.67),(320.2,3.68),(321.8,4.02),(323.4,4.19),(324.8,4.11),(326.2,3.94),(327.9,4.02),(329.5,3.68),(330.9,4.19),(332.3,4.02),(333.9,4.36),(335.5,4.7),(337,4.87),(338.4,5.46),(339.6,4.87),(341,3.94),(342.4,3.26),(344,3.68),(345.7,3.34),(347.1,3.0),(348.5,2.92),(350.1,2.84),(351.7,2.67),(353.1,2.58),(354.6,2.5),(356.2,2.33),(357.8,2.07),(359.2,1.74),(360.6,1.57),(362.3,1.65),(363.9,1.82),(365.3,1.74),(366.7,1.65),(368.3,1.74),(369.9,1.82),(371.4,1.74),(373,1.65),(374.4,1.65),(376,1.99),(377.4,2.5),(378.8,3.18),(380.1,3.68),(381.5,3.43),(382.5,3.0),(383.5,4.45),(384.5,4.61),(385.5,4.02),(386.5,3.34),(387.7,2.67),(388.9,1.82),(390.2,1.65),(391.6,2.33),(393,2.84),(394.6,3.18),(396.2,3.0),(397.7,3.09),(399.1,3.0),(400.7,3.43),(402.3,3.18),(403.7,2.67),(405.1,2.92),(406.8,2.5),(408.4,2.16),(409.8,1.99),(411.2,2.03),(412.8,2.16),(414.4,1.99),(415.9,1.82),(417.3,1.91),(418.9,1.74),(420.5,1.65),(421.9,1.57),(423.4,1.65),(425,1.57),(426.6,1.69),(428,1.65),(429.4,1.82),(431,1.99),(432.7,2.16),(434.1,2.33),(435.5,2.16),(437.1,2.5),(438.7,2.33),(440.1,2.58),(441.6,2.5),(443.2,2.84),(444.8,2.67),(446.2,2.92),(447.6,3.34),(448.8,3.68),(449.6,3.6),(450.9,3.18),(452.3,3.26),(453.7,3.18),(455.3,3.26),(457,3.18),(458.4,3.09),(459.8,3.0),(461.4,2.92),(462.8,3.18),(464.5,3.51),(465.8,3.43),(467.4,3.68),(468.6,3.94),(469.9,3.68),(471.1,4.02),(472.1,4.19)]
TMD_RMSF_R7 = [(209,3.85),(210.5,3.68),(212.1,3.43),(213.6,3.34),(215,3.09),(216.6,2.67),(218.2,2.33),(219.6,2.07),(221,1.74),(222.7,1.82),(224.3,1.57),(225.7,1.74),(227.1,1.52),(228.7,1.65),(230.3,1.48),(231.8,1.65),(233.2,1.4),(234.8,1.57),(236.4,1.82),(237.8,1.31),(239.2,1.14),(240.9,0.97),(242.5,1.14),(243.9,1.48),(245.3,1.65),(246.9,1.82),(248.6,1.99),(250,2.16),(251.4,2.33),(253,2.67),(254.6,2.84),(256,2.67),(257.5,3.18),(259.1,3.0),(260.7,3.26),(262.1,3.18),(263.5,3.0),(264.7,3.34),(266.2,2.92),(267.6,3.43),(269.2,3.18),(270.8,2.84),(272.2,2.67),(273.6,2.5),(275.3,2.41),(276.9,2.33),(278.3,2.16),(279.7,2.24),(281.3,1.99),(282.9,2.16),(284.4,1.91),(285.8,1.99),(287.4,1.82),(289,1.91),(290.4,1.74),(291.8,1.65),(293.5,1.74),(295.1,1.57),(296.5,1.74),(297.9,2.07),(299.1,2.5),(300.3,3.18),(301.6,3.68),(302.8,3.34),(304,2.84),(305.6,2.5),(307.2,2.16),(308.6,1.99),(310.1,1.82),(311.7,1.99),(313.3,1.74),(314.7,1.91),(316.1,1.65),(317.7,1.82),(319.4,2.16),(320.8,2.5),(322.2,2.33),(323.8,2.58),(325.4,2.75),(326.8,2.92),(328.3,2.67),(329.9,2.84),(331.5,2.67),(332.9,2.84),(334.3,3.0),(336,3.18),(337.6,3.09),(339,3.18),(340.4,3.68),(341.6,4.36),(342.6,4.7),(343.6,4.19),(345.1,3.18),(346.5,2.67),(348.1,2.5),(349.7,2.33),(351.1,2.16),(352.5,1.99),(354.2,1.82),(355.8,1.65),(357.2,1.48),(358.6,1.4),(360.2,1.31),(361.8,1.4),(363.3,1.31),(364.7,1.48),(366.3,1.4),(367.9,1.57),(369.3,1.48),(370.7,1.65),(372.4,1.57),(374,1.74),(375.4,1.99),(376.8,2.33),(378.4,2.67),(379.9,3.18),(381.1,3.77),(382.5,3.34),(383.9,3.68),(385.1,4.36),(386.1,3.68),(387.5,2.84),(388.9,1.99),(390.2,1.82),(391.6,2.33),(393,3.0),(394.6,3.18),(396.2,3.0),(397.7,3.26),(399.1,2.67),(400.3,4.53),(401.3,4.02),(402.3,3.18),(403.7,2.5),(405.1,2.33),(406.8,2.5),(408.4,2.24),(409.8,2.41),(411.2,2.16),(412.8,2.33),(414.4,1.99),(415.9,2.16),(417.3,1.91),(418.9,1.82),(420.5,1.65),(421.9,1.74),(423.4,1.48),(425,1.65),(426.6,1.74),(428,1.57),(429.4,1.74),(431,1.65),(432.7,1.82),(434.1,1.74),(435.5,1.82),(437.1,1.65),(438.7,1.91),(440.1,1.74),(441.6,1.99),(443.2,1.82),(444.8,2.33),(446.2,1.82),(447.6,1.91),(449.2,1.99),(450.9,1.82),(452.3,2.07),(453.7,1.99),(455.3,2.16),(457,2.07),(458.4,2.33),(459.8,2.5),(461.4,2.67),(462.8,2.92),(464.5,3.26),(465.8,3.43),(467.4,3.68),(468.8,4.02),(470.5,4.36),(472.1,4.4)]
TMD_RMSF_R9 = [(209,3.6),(210.5,3.18),(212.1,2.92),(213.6,2.84),(215,2.58),(216.6,2.33),(218.2,2.16),(219.6,1.99),(221,1.82),(222.7,1.74),(224.3,1.57),(225.7,1.48),(227.1,1.57),(228.7,1.48),(230.3,1.52),(231.8,1.4),(233.2,1.48),(234.8,1.4),(236.4,1.65),(237.8,1.57),(239.2,1.31),(240.9,1.19),(242.5,1.23),(243.9,1.4),(245.3,1.57),(246.9,1.74),(248.6,1.91),(250,2.07),(251.4,2.16),(253,2.33),(254.6,2.5),(256,2.33),(257.5,2.58),(259.1,2.75),(260.7,2.92),(262.1,2.84),(263.5,3.0),(264.7,2.75),(266.2,2.92),(267.6,3.0),(269.2,2.84),(270.8,2.67),(272.2,2.5),(273.6,2.41),(275.3,2.24),(276.9,2.16),(278.3,1.99),(279.7,1.91),(281.3,1.82),(282.9,1.74),(284.4,1.65),(285.8,1.74),(287.4,1.57),(289,1.31),(290.4,1.48),(291.8,1.4),(293.5,1.57),(295.1,1.48),(296.5,1.65),(297.9,1.99),(299.1,2.5),(300.3,3.34),(301.2,4.02),(302.4,3.68),(303.6,3.0),(305.2,2.5),(306.6,2.33),(308,1.99),(309.7,1.82),(311.3,1.74),(312.7,1.65),(314.1,1.74),(315.7,1.65),(317.3,1.82),(318.8,1.99),(320.2,2.24),(321.8,2.33),(323.4,2.5),(324.8,2.67),(326.2,2.84),(327.9,2.58),(329.5,2.67),(330.9,2.5),(332.3,2.58),(333.9,2.67),(335.5,2.75),(337,2.67),(338.4,2.84),(340,2.67),(341.6,2.5),(343,2.75),(344.5,2.5),(346.1,2.33),(347.7,2.16),(349.1,2.07),(350.5,1.99),(352.1,1.82),(353.8,1.74),(355.2,1.65),(356.6,1.48),(358.2,1.4),(359.8,1.31),(361.2,1.23),(362.7,1.27),(364.3,1.4),(365.9,1.31),(367.3,1.4),(368.7,1.31),(370.3,1.4),(372,1.48),(373.4,1.4),(374.8,1.48),(376.4,1.74),(378,1.99),(379.4,2.16),(380.9,2.5),(382.1,2.33),(383.5,2.5),(384.9,2.16),(386.1,2.33),(387.5,1.99),(388.9,1.74),(390.2,1.65),(391.6,1.91),(393,2.07),(394.6,1.99),(396.2,2.16),(397.7,1.99),(399.1,2.33),(400.3,2.58),(401.5,2.16),(402.7,1.65),(404.3,1.57),(405.7,1.65),(407.1,1.48),(408.8,1.57),(410.4,1.4),(411.8,1.48),(413.2,1.31),(414.8,1.4),(416.5,1.23),(417.9,1.31),(419.3,1.14),(420.9,1.23),(422.5,1.06),(424,1.23),(425.4,1.31),(427,1.4),(428.6,1.48),(430,1.57),(431.4,1.65),(433.1,1.57),(434.7,1.74),(436.1,1.65),(437.5,1.74),(439.1,1.82),(440.8,1.74),(442.2,1.91),(443.6,1.82),(445.2,1.99),(446.9,1.91),(448.2,2.07),(449.6,1.99),(451.2,2.16),(452.9,2.07),(454.3,2.24),(455.7,2.16),(457.3,2.33),(459,2.41),(460.4,2.58),(461.8,2.75),(463.4,3.0),(465.1,3.26),(466.5,3.51),(467.9,3.77),(469.5,4.02),(470.9,4.19),(472.1,4.36)]
TMD_RMSF_R12 = [(209,2.41),(210.5,2.24),(212.1,1.91),(213.6,1.82),(215,1.65),(216.6,1.57),(218.2,1.48),(219.6,1.4),(221,1.4),(222.7,1.31),(224.3,1.35),(225.7,1.27),(227.1,1.31),(228.7,1.23),(230.3,1.31),(231.8,1.23),(233.2,1.4),(234.8,1.31),(236.4,1.4),(237.8,1.23),(239.2,1.14),(240.9,1.06),(242.5,1.02),(243.9,0.97),(245.3,1.06),(246.9,1.14),(248.6,1.23),(250,1.4),(251.4,1.52),(253,1.65),(254.6,1.74),(256,1.91),(257.5,1.99),(259.1,2.16),(260.7,2.33),(262.1,2.41),(263.5,2.58),(264.7,2.75),(266.2,2.5),(267.2,3.43),(268.4,3.18),(269.6,2.67),(271.2,2.41),(272.8,2.24),(274.2,2.07),(275.7,1.99),(277.3,1.82),(278.9,1.74),(280.3,1.65),(281.7,1.57),(283.4,1.48),(285,1.4),(286.4,1.31),(287.8,1.4),(289.4,1.23),(291,1.14),(292.5,1.23),(293.9,1.14),(295.5,1.23),(297.1,1.48),(298.3,1.99),(299.5,3.18),(300.7,3.77),(301.9,3.68),(303.2,3.18),(304.6,2.67),(306,2.24),(307.6,1.99),(309.2,1.82),(310.7,1.65),(312.1,1.57),(313.7,1.48),(315.3,1.4),(316.7,1.31),(318.1,1.4),(319.8,1.57),(321.4,1.82),(322.8,2.5),(324.2,2.84),(325.4,2.58),(326.8,3.51),(327.4,3.6),(328.3,3.0),(329.5,2.5),(330.9,3.09),(332.3,2.5),(333.9,2.67),(335.5,2.92),(337,3.0),(338.4,2.67),(340,2.58),(341.6,2.33),(343,2.5),(344.5,2.24),(346.1,2.07),(347.7,1.91),(349.1,1.82),(350.5,1.74),(352.1,1.65),(353.8,1.57),(355.2,1.4),(356.6,1.31),(358.2,1.23),(359.8,1.14),(361.2,1.19),(362.7,1.14),(364.3,1.23),(365.9,1.14),(367.3,1.31),(368.7,1.23),(370.3,1.4),(372,1.31),(373.4,1.4),(374.8,1.31),(376.4,1.57),(378,1.82),(379.4,1.99),(380.9,1.99),(382.5,1.82),(384.1,1.65),(385.5,1.74),(387,1.57),(388.5,1.4),(390.2,1.31),(391.6,1.48),(393,1.4),(394.6,1.48),(396.2,1.31),(397.7,1.4),(399.1,1.31),(400.7,1.48),(402.3,1.4),(403.7,1.23),(405.1,1.14),(406.8,1.23),(408.4,1.06),(409.8,1.14),(411.2,0.97),(412.8,1.06),(414.4,0.97),(415.9,1.06),(417.3,0.89),(418.9,0.97),(420.5,0.89),(421.9,1.06),(423.4,1.14),(425,1.23),(426.6,1.31),(428,1.4),(429.4,1.48),(431,1.57),(432.7,1.48),(434.1,1.57),(435.5,1.48),(437.1,1.65),(438.7,1.57),(440.1,1.65),(441.6,1.57),(443.2,1.65),(444.8,1.74),(446.2,1.65),(447.6,1.82),(449.2,1.91),(450.9,1.82),(452.3,1.99),(453.7,1.91),(455.3,2.07),(457,2.16),(458.4,2.24),(459.8,2.41),(461.4,2.58),(462.8,2.75),(464.5,2.92),(465.8,3.09),(467.4,3.26),(468.8,3.43),(470.5,3.47),(472.1,3.43)]
TMD_RMSF_R15 = [(209,1.57),(210.5,1.48),(212.1,1.31),(213.6,1.23),(215,1.14),(216.6,1.06),(218.2,1.02),(219.6,0.97),(221,1.06),(222.7,0.97),(224.3,1.06),(225.7,0.97),(227.1,1.06),(228.7,1.14),(230.3,0.97),(231.8,1.14),(233.2,1.06),(234.8,1.4),(236.4,1.23),(237.8,0.89),(239.2,0.8),(240.9,0.64),(242.5,0.76),(243.9,0.64),(245.3,0.76),(246.9,0.68),(248.6,0.8),(250,0.85),(251.4,0.89),(253,0.89),(254.6,0.97),(256,0.89),(257.5,0.97),(259.1,1.06),(260.7,1.14),(262.1,1.31),(263.5,1.48),(264.7,1.4),(266.2,1.65),(267.2,1.99),(268.4,1.65),(269.6,1.4),(271.2,1.23),(272.8,1.14),(274.2,1.23),(275.7,1.06),(277.3,1.14),(278.9,0.97),(280.3,1.06),(281.7,0.89),(283.4,0.97),(285,0.85),(286.4,0.8),(287.8,0.97),(289.4,0.8),(291,0.89),(292.5,0.97),(293.9,0.89),(295.5,0.97),(297.1,1.14),(298.5,1.48),(299.9,1.99),(301.2,2.5),(302.4,2.41),(303.6,2.16),(305.2,1.82),(306.6,1.65),(308,1.48),(309.7,1.31),(311.3,1.23),(312.7,1.31),(314.1,1.14),(315.7,1.06),(317.3,1.14),(318.8,1.06),(320.2,1.14),(321.8,1.31),(323.4,1.48),(324.8,1.82),(326.2,2.5),(327.4,2.16),(328.9,1.65),(330.3,1.99),(331.9,1.82),(333.5,1.99),(334.9,1.91),(336.4,1.91),(338,1.99),(339.6,1.82),(341,1.65),(342.4,1.74),(344,1.57),(345.7,1.4),(347.1,1.31),(348.5,1.4),(350.1,1.23),(351.7,1.31),(353.1,1.14),(354.6,1.23),(356.2,1.14),(357.8,1.06),(359.2,1.14),(360.6,1.06),(362.3,0.97),(363.9,1.06),(365.3,0.97),(366.7,1.06),(368.3,0.97),(369.9,1.06),(371.4,0.97),(373,0.89),(374.4,0.97),(376,1.14),(377.4,1.4),(378.8,1.65),(380.5,1.74),(382.1,1.65),(383.5,1.48),(384.9,1.57),(386.5,1.4),(388.1,1.14),(389.6,0.97),(391,0.89),(392.6,0.97),(394.2,1.06),(395.6,0.97),(397,1.06),(398.7,0.97),(400.3,0.8),(401.7,0.72),(403.1,0.8),(404.7,0.64),(406.4,0.72),(407.8,0.55),(409.2,0.64),(410.8,0.55),(412.4,0.64),(413.8,0.55),(415.3,0.64),(416.9,0.47),(418.5,0.42),(419.9,0.47),(421.3,0.47),(422.9,0.55),(424.6,0.64),(426,0.72),(427.4,0.8),(429,0.85),(430.6,0.89),(432,0.97),(433.5,0.93),(435.1,1.06),(436.7,1.02),(438.1,1.14),(439.5,1.1),(441.2,1.23),(442.8,1.19),(444.2,1.31),(445.6,1.23),(447.2,1.31),(448.8,1.4),(450.3,1.31),(451.7,1.4),(453.3,1.31),(454.9,1.48),(456.3,1.4),(457.7,1.57),(459.4,1.48),(461,1.65),(462.4,1.74),(463.8,1.65),(465.4,1.82),(467.1,1.74),(468.5,1.65),(469.9,1.74),(471.1,1.48),(472.1,1.52)]
TMD_RMSF_R16 = [(209,1.82),(209.7,1.52),(211,1.48),(212.1,1.31),(213.6,1.23),(215,1.14),(216.6,1.1),(218.2,1.06),(219.6,1.14),(221,1.06),(222.7,1.1),(224.3,1.14),(225.7,1.23),(227.1,1.14),(228.7,1.4),(230.3,1.31),(231.8,1.48),(233.2,1.65),(234.8,1.74),(236.4,1.91),(237.2,1.99),(238.4,1.82),(239.9,1.31),(241.3,1.48),(242.5,1.14),(243.9,1.23),(245.3,0.97),(246.9,0.89),(248.6,0.93),(250,0.89),(251.4,0.93),(253,0.97),(254.6,1.06),(256,1.14),(257.5,1.31),(259.1,1.48),(260.7,1.65),(262.1,1.74),(263.5,1.69),(264.7,1.65),(266.2,1.4),(267.6,1.48),(269.2,1.57),(270.8,1.31),(272.2,1.06),(273.6,1.14),(275.3,0.97),(276.9,1.06),(278.3,0.89),(279.7,0.97),(281.3,0.8),(282.9,0.85),(284.4,0.76),(285.8,0.8),(287.4,0.76),(289,0.85),(290.4,0.8),(291.8,0.85),(293.5,0.8),(295.1,0.89),(296.5,1.06),(297.9,1.31),(299.1,1.74),(300.3,2.16),(301.6,2.07),(302.8,1.91),(304,1.74),(305.2,1.48),(306.6,1.23),(307.6,0.8),(308.8,0.97),(310.1,0.76),(311.7,0.8),(313.3,0.72),(314.7,0.76),(316.1,0.68),(317.7,0.72),(319.4,0.8),(320.8,0.97),(322.2,1.06),(323.8,1.23),(325.4,1.14),(326.8,1.4),(328.3,1.31),(329.9,1.65),(331.5,1.91),(332.9,2.07),(334.3,2.33),(335.5,2.41),(337,2.24),(338.4,1.99),(340,1.82),(341.6,1.65),(343,1.57),(344.5,1.4),(346.1,1.48),(347.7,1.31),(349.1,1.23),(350.5,1.14),(352.1,1.06),(353.8,1.14),(355.2,1.06),(356.6,0.97),(358.2,1.06),(359.8,0.97),(361.2,0.89),(362.7,0.97),(364.3,0.93),(365.9,0.97),(367.3,0.89),(368.7,1.06),(370.3,0.97),(372,1.14),(373.4,1.06),(374.8,1.23),(376.4,1.65),(377.4,1.99),(378.4,2.07),(379.9,1.65),(381.5,1.48),(382.9,1.57),(384.5,1.31),(386.1,1.4),(387.5,1.23),(388.9,1.06),(390.6,0.97),(392.2,1.14),(393.6,1.19),(395,1.23),(396.6,1.14),(398.3,1.31),(399.7,1.14),(401.1,1.31),(402.7,1.06),(404.3,0.97),(405.7,1.06),(407.1,0.89),(408.8,0.8),(410.4,0.72),(411.8,0.8),(413.2,0.68),(414.8,0.76),(416.5,0.64),(417.9,0.72),(419.3,0.76),(420.9,0.8),(422.5,0.72),(424,0.8),(425.4,0.76),(427,0.85),(428.6,0.8),(430,0.89),(431.4,0.97),(433.1,0.89),(434.7,0.97),(436.1,1.06),(437.5,0.97),(439.1,1.06),(440.8,0.97),(442.2,1.06),(443.6,0.97),(445.2,1.06),(446.9,0.97),(448.2,1.02),(449.6,0.97),(451.2,1.06),(452.9,1.14),(454.3,1.06),(455.7,1.14),(457.3,1.23),(459,1.14),(460.4,1.23),(461.8,1.4),(463.4,1.48),(465.1,1.65),(466.5,1.74),(467.9,1.82),(469.1,1.99),(470.5,2.24),(472.1,2.24)]

# ---------------- names, colours, ticks ----------------
ICD_NAMES = ["r1", "r2", "r3", "r4", "r5", "r6"]
TMD_NAMES = ["r1", "r4", "r7", "r9", "r12", "r15", "r16"]
ICD_COLORS = ["#00008C", "#0A3CF5", "#14C8F8", "#80F080", "#FFD500", "#FF3A00"]
TMD_COLORS = ["#00008C", "#0A3CF5", "#14C8F8", "#80F080", "#FFD500", "#FF8C00", "#FF3A00"]

E_SC_YTICKS = [-4000, -3000, -2000, -1000, 0, 1000, 2000, 3000, 4000, 5000]
E_SC_XTICKS = [0, 5, 10, 15, 20]
E_RM_XTICKS = [280, 300, 320, 340, 360, 380, 400, 420, 440, 460]
E_RM_YTICKS = [0, 5, 10, 15]
F_SC_YTICKS = [-8000, -7500, -7000, -6500, -6000, -5500, -5000, -4500]
F_SC_XTICKS = [0, 2, 4, 6, 8, 10, 12]
F_RM_XTICKS = [200, 220, 240, 260, 280, 300, 320, 340, 360, 380, 400, 420, 440, 460, 480]
F_RM_YTICKS = [0, 1, 2, 3, 4, 5, 6, 7, 8]

ICD_SC = [ICD_SC_R1, ICD_SC_R2, ICD_SC_R3, ICD_SC_R4, ICD_SC_R5, ICD_SC_R6]
ICD_RM = [ICD_RMSF_R1, ICD_RMSF_R2, ICD_RMSF_R3, ICD_RMSF_R4, ICD_RMSF_R5, ICD_RMSF_R6]
TMD_SC = [TMD_SC_R1, TMD_SC_R4, TMD_SC_R7, TMD_SC_R9, TMD_SC_R12, TMD_SC_R15, TMD_SC_R16]
TMD_RM = [TMD_RMSF_R1, TMD_RMSF_R4, TMD_RMSF_R7, TMD_RMSF_R9, TMD_RMSF_R12, TMD_RMSF_R15, TMD_RMSF_R16]


def X(p):
    return p / W


def Y(p):
    return 1 - p / H


fig = go.Figure()


def add_scatter(sets, names, colors, xa, ya):
    for pts, n, c in zip(sets, names, colors):
        fig.add_trace(go.Scatter(x=[p[0] for p in pts], y=[p[1] for p in pts], mode="markers",
                                 name=n, showlegend=False, xaxis=xa, yaxis=ya,
                                 marker=dict(color=c, size=4.6, line=dict(width=0))))


def add_lines(sets, names, colors, xa, ya, width):
    for pts, n, c in zip(sets, names, colors):
        fig.add_trace(go.Scatter(x=[p[0] for p in pts], y=[p[1] for p in pts], mode="lines",
                                 name=n, showlegend=False, xaxis=xa, yaxis=ya,
                                 line=dict(color=c, width=width)))


add_scatter(ICD_SC, ICD_NAMES, ICD_COLORS, "x", "y")
add_lines(ICD_RM, ICD_NAMES, ICD_COLORS, "x2", "y2", 2.5)
add_scatter(TMD_SC, TMD_NAMES, TMD_COLORS, "x3", "y3")
add_lines(TMD_RM, TMD_NAMES, TMD_COLORS, "x4", "y4", 2.2)


def axis(domain, rng, ticks, anchor, minor=None, ticklen=6, standoff=None, shift=None):
    d = dict(domain=domain, range=rng, anchor=anchor, showline=True, linecolor=TXT, linewidth=1.5,
             ticks="inside", ticklen=ticklen, tickwidth=1.3, tickcolor=TXT,
             tickmode="array", tickvals=ticks, ticktext=[str(t) for t in ticks],
             tickfont=dict(family=FONT, size=19, color=TXT), automargin=False,
             showgrid=False, zeroline=False, fixedrange=True)
    if standoff is not None:
        d["ticklabelstandoff"] = standoff
    if shift is not None:
        d["ticklabelshift"] = shift
    if minor is not None:
        d["minor"] = dict(ticks="inside", ticklen=minor[1], tickwidth=1.2, tickcolor=TXT,
                          tickmode="linear", tick0=0, dtick=minor[0], showgrid=False)
    return d


layout = dict(
    template="none",
    width=W, height=H, margin=dict(l=0, r=0, t=0, b=0, pad=0, autoexpand=False),
    paper_bgcolor="white", plot_bgcolor="white", showlegend=False,
    font=dict(family=FONT, color=TXT),
    xaxis=axis([X(96.3), X(509)], [0, 22.1], E_SC_XTICKS, "y", minor=(1, 4), ticklen=7, standoff=0),
    yaxis=axis([Y(450), Y(20)], [-4000, 5000], E_SC_YTICKS, "x"),
    xaxis2=axis([X(598), X(1198)], [280, 460], E_RM_XTICKS, "y2", minor=(10, 6), standoff=1),
    yaxis2=axis([Y(448.5), Y(147.5)], [0, 15], E_RM_YTICKS, "x2", minor=(1, 4), shift=-5),
    xaxis3=axis([X(96.7), X(509)], [0, 12], F_SC_XTICKS, "y3", minor=(0.5, 4), ticklen=7, standoff=-3),
    yaxis3=axis([Y(975.3), Y(546)], [-8250, -4500], F_SC_YTICKS, "x3"),
    xaxis4=axis([X(600), X(1200)], [200, 480], F_RM_XTICKS, "y4", minor=(10, 6), standoff=0),
    yaxis4=axis([Y(972), Y(656.5)], [0, 8], F_RM_YTICKS, "x4", shift=-6),
)
fig.update_layout(**layout)

ann = []
shapes = []


def text(s, cx, cy, size, color=TXT, angle=0, xanchor="center"):
    ann.append(dict(text=s, x=X(cx), y=Y(cy), xref="paper", yref="paper", showarrow=False,
                    xanchor=xanchor, yanchor="middle", textangle=angle,
                    font=dict(family=FONT, size=size, color=color)))


# panel letters and titles
text("e", 21, 27, 48, "black")
text("f", 21, 553, 48, "black")
text("ICD", 148, 45, 36, "black")
text("ICD", 656, 172, 36, "black")
text("TMD+ICD", 194, 572, 36, "black")
text("TMD+ICD", 702, 678, 36, "black")

# axis titles
text("Total Score", 22, 236, 22, angle=-90)
text("Backbone RMSD (Å)", 303, 492, 22)
text("RMSF (Å)", 557, 290, 22, angle=-90)
text("Residue", 901, 492, 22)
text("Total Score", 22, 759, 22, angle=-90)
text("Backbone RMSD (Å)", 312, 1012, 22)
text("RMSF (Å)", 562, 803, 22, angle=-90)
text("Residue", 914, 1014, 22)


def legend(names, colors, box, first_y, step, sw_x, txt_x, kind):
    x0, y0, x1, y1 = box
    shapes.append(dict(type="rect", xref="paper", yref="paper", x0=X(x0), x1=X(x1), y0=Y(y1), y1=Y(y0),
                       line=dict(color="#1a1a1a", width=1.8), fillcolor="white", layer="above"))
    for i, (n, c) in enumerate(zip(names, colors)):
        yy = first_y + i * step
        if kind == "marker":
            shapes.append(dict(type="circle", xref="paper", yref="paper", xsizemode="pixel", ysizemode="pixel",
                               xanchor=X(sw_x), yanchor=Y(yy), x0=-7.5, x1=7.5, y0=-7.5, y1=7.5,
                               fillcolor=c, line=dict(width=0), layer="above"))
        else:
            shapes.append(dict(type="line", xref="paper", yref="paper", x0=X(sw_x[0]), x1=X(sw_x[1]),
                               y0=Y(yy), y1=Y(yy), line=dict(color=c, width=3), layer="above"))
        text(n, txt_x, yy, 20, "black", xanchor="left")


legend(ICD_NAMES, ICD_COLORS, (435, 303, 509, 436), 318.3, 21.1, 452.7, 466, "marker")
legend(ICD_NAMES, ICD_COLORS, (1050, 164, 1136, 331), 183.3, 27.2, (1063, 1087), 1092, "line")
legend(TMD_NAMES, TMD_COLORS, (433, 799, 507, 958), 814.3, 21.2, 450.7, 465, "marker")
legend(TMD_NAMES, TMD_COLORS, (1046, 654, 1124, 823), 670.7, 22.6, (1052, 1077), 1083, "line")

fig.update_layout(annotations=ann, shapes=shapes)
fig.write_html("out.html", include_plotlyjs=True, config={"displayModeBar": False})
